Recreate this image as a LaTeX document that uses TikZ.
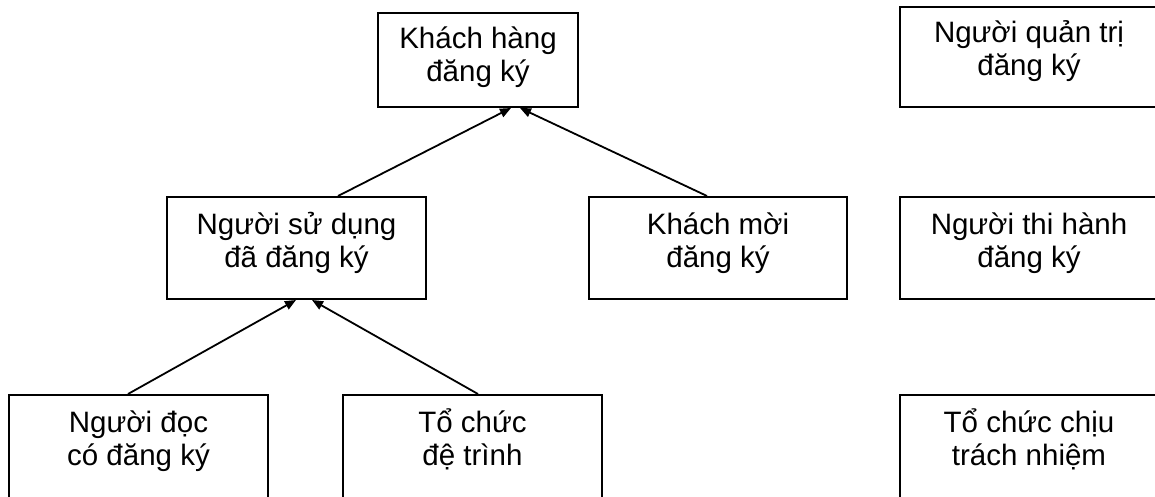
\documentclass[tikz,border=0pt]{standalone}
\usepackage{fontspec}
\setmainfont{Liberation Sans}
\usetikzlibrary{arrows.meta,calc}
\tikzset{
  box/.style={draw, line width=2pt, rectangle, inner sep=0pt, fill=none},
  lbl/.style={align=center, inner sep=0pt, anchor=base, font=\fontsize{29.5}{33}\selectfont},
  conn/.style={line width=1.8pt, -{Triangle[length=11pt,width=9pt]}},
}
\begin{document}
\begin{tikzpicture}[x=1pt,y=-1pt]
\useasboundingbox (0,0) rectangle (1155,497);
\fill[white] (0,0) rectangle (1155,497);
\clip (0,0) rectangle (1155,497);
% boxes
\node[box, minimum width=200pt, minimum height=94pt] (kh) at (478,60) {};
\node[box, minimum width=259pt, minimum height=102pt] (nsd) at (296.5,248) {};
\node[box, minimum width=258pt, minimum height=102pt] (km) at (718,248) {};
\node[box, minimum width=258pt, minimum height=100pt] (qt) at (1029,57) {};
\node[box, minimum width=258pt, minimum height=102pt] (th) at (1029,248) {};
\node[box, minimum width=258pt, minimum height=106pt] (tn) at (1029,448) {};
\node[box, minimum width=259pt, minimum height=106pt] (nd) at (138.5,448) {};
\node[box, minimum width=259pt, minimum height=106pt] (tc) at (472.5,448) {};
% labels (anchor=base is the baseline of the last line)
\node[lbl] (khl) at ($(kh.north)+(0,70)$) {Khách hàng\\đăng ký};
\node[lbl] (nsdl) at ($(nsd.north)+(0,71)$) {Người sử dụng\\đã đăng ký};
\node[lbl] (kml) at ($(km.north)+(0,71)$) {Khách mời\\đăng ký};
\node[lbl] (qtl) at ($(qt.north)+(0,70)$) {Người quản trị\\đăng ký};
\node[lbl] (thl) at ($(th.north)+(0,71)$) {Người thi hành\\đăng ký};
\node[lbl] (tnl) at ($(tn.north)+(0,71)$) {Tổ chức chịu\\trách nhiệm};
\node[lbl] (ndl) at ($(nd.north)+(0,71)$) {Người đọc\\có đăng ký};
\node[lbl] (tcl) at ($(tc.north)+(0,71)$) {Tổ chức\\đệ trình};
% connectors
\draw[conn] ([xshift=41.5pt]nsd.north) -- ([xshift=33pt]kh.south);
\draw[conn] ([xshift=-11pt]km.north) -- ([xshift=42pt]kh.south);
\draw[conn] ([xshift=-10.5pt]nd.north) -- ([xshift=-0.5pt]nsd.south);
\draw[conn] ([xshift=5.5pt]tc.north) -- ([xshift=15.5pt]nsd.south);
\end{tikzpicture}
\end{document}
